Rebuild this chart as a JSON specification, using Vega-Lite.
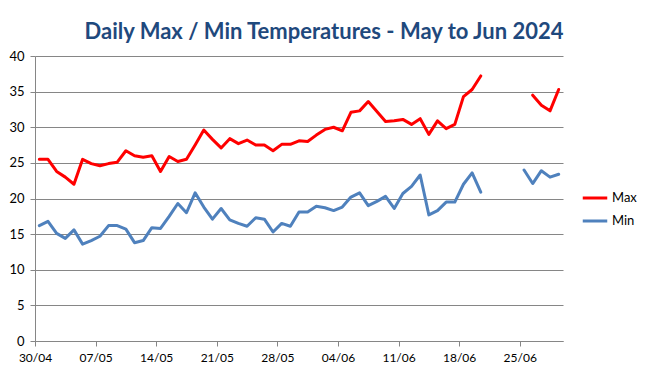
{
  "$schema": "https://vega.github.io/schema/vega-lite/v6.json",
  "width": 528,
  "height": 285,
  "autosize": {"type": "none"},
  "padding": {"left": 35, "top": 56, "right": 85, "bottom": 35},
  "background": "white",
  "title": {
    "text": "Daily Max / Min Temperatures - May to Jun 2024",
    "font": "Lato",
    "fontSize": 22,
    "fontWeight": "bold",
    "color": "#1F497D",
    "anchor": "middle",
    "frame": "group",
    "dx": 25,
    "dy": 27,
    "baseline": "alphabetic",
    "offset": 16
  },
  "config": {
    "view": {"stroke": null},
    "font": "Lato"
  },
  "data": {
    "values": [
      {"d": "2024-04-30T12:00", "Max": 25.5, "Min": 16.2},
      {"d": "2024-05-01T12:00", "Max": 25.5, "Min": 16.8},
      {"d": "2024-05-02T12:00", "Max": 23.8, "Min": 15.1},
      {"d": "2024-05-03T12:00", "Max": 23.0, "Min": 14.4},
      {"d": "2024-05-04T12:00", "Max": 22.0, "Min": 15.6},
      {"d": "2024-05-05T12:00", "Max": 25.5, "Min": 13.6},
      {"d": "2024-05-06T12:00", "Max": 24.9, "Min": 14.1},
      {"d": "2024-05-07T12:00", "Max": 24.6, "Min": 14.7},
      {"d": "2024-05-08T12:00", "Max": 24.9, "Min": 16.2},
      {"d": "2024-05-09T12:00", "Max": 25.1, "Min": 16.2},
      {"d": "2024-05-10T12:00", "Max": 26.7, "Min": 15.7},
      {"d": "2024-05-11T12:00", "Max": 26.0, "Min": 13.8},
      {"d": "2024-05-12T12:00", "Max": 25.8, "Min": 14.1},
      {"d": "2024-05-13T12:00", "Max": 26.0, "Min": 15.9},
      {"d": "2024-05-14T12:00", "Max": 23.8, "Min": 15.8},
      {"d": "2024-05-15T12:00", "Max": 25.9, "Min": 17.5},
      {"d": "2024-05-16T12:00", "Max": 25.2, "Min": 19.3},
      {"d": "2024-05-17T12:00", "Max": 25.5, "Min": 18.0},
      {"d": "2024-05-18T12:00", "Max": 27.5, "Min": 20.8},
      {"d": "2024-05-19T12:00", "Max": 29.6, "Min": 18.8},
      {"d": "2024-05-20T12:00", "Max": 28.3, "Min": 17.1},
      {"d": "2024-05-21T12:00", "Max": 27.1, "Min": 18.6},
      {"d": "2024-05-22T12:00", "Max": 28.4, "Min": 17.0},
      {"d": "2024-05-23T12:00", "Max": 27.7, "Min": 16.5},
      {"d": "2024-05-24T12:00", "Max": 28.2, "Min": 16.1},
      {"d": "2024-05-25T12:00", "Max": 27.5, "Min": 17.3},
      {"d": "2024-05-26T12:00", "Max": 27.5, "Min": 17.1},
      {"d": "2024-05-27T12:00", "Max": 26.7, "Min": 15.3},
      {"d": "2024-05-28T12:00", "Max": 27.6, "Min": 16.5},
      {"d": "2024-05-29T12:00", "Max": 27.6, "Min": 16.1},
      {"d": "2024-05-30T12:00", "Max": 28.1, "Min": 18.1},
      {"d": "2024-05-31T12:00", "Max": 28.0, "Min": 18.1},
      {"d": "2024-06-01T12:00", "Max": 28.9, "Min": 18.9},
      {"d": "2024-06-02T12:00", "Max": 29.7, "Min": 18.7},
      {"d": "2024-06-03T12:00", "Max": 30.0, "Min": 18.3},
      {"d": "2024-06-04T12:00", "Max": 29.5, "Min": 18.8},
      {"d": "2024-06-05T12:00", "Max": 32.1, "Min": 20.2},
      {"d": "2024-06-06T12:00", "Max": 32.3, "Min": 20.8},
      {"d": "2024-06-07T12:00", "Max": 33.6, "Min": 19.0},
      {"d": "2024-06-08T12:00", "Max": 32.2, "Min": 19.6},
      {"d": "2024-06-09T12:00", "Max": 30.8, "Min": 20.3},
      {"d": "2024-06-10T12:00", "Max": 30.9, "Min": 18.6},
      {"d": "2024-06-11T12:00", "Max": 31.1, "Min": 20.7},
      {"d": "2024-06-12T12:00", "Max": 30.4, "Min": 21.7},
      {"d": "2024-06-13T12:00", "Max": 31.2, "Min": 23.3},
      {"d": "2024-06-14T12:00", "Max": 29.0, "Min": 17.7},
      {"d": "2024-06-15T12:00", "Max": 30.9, "Min": 18.3},
      {"d": "2024-06-16T12:00", "Max": 29.8, "Min": 19.5},
      {"d": "2024-06-17T12:00", "Max": 30.4, "Min": 19.5},
      {"d": "2024-06-18T12:00", "Max": 34.3, "Min": 22.0},
      {"d": "2024-06-19T12:00", "Max": 35.3, "Min": 23.6},
      {"d": "2024-06-20T12:00", "Max": 37.2, "Min": 20.9},
      {"d": "2024-06-21T12:00", "Max": null, "Min": null},
      {"d": "2024-06-22T12:00", "Max": null, "Min": null},
      {"d": "2024-06-23T12:00", "Max": null, "Min": null},
      {"d": "2024-06-24T12:00", "Max": null, "Min": null},
      {"d": "2024-06-25T12:00", "Max": null, "Min": 24.0},
      {"d": "2024-06-26T12:00", "Max": 34.5, "Min": 22.1},
      {"d": "2024-06-27T12:00", "Max": 33.1, "Min": 23.9},
      {"d": "2024-06-28T12:00", "Max": 32.3, "Min": 23.0},
      {"d": "2024-06-29T12:00", "Max": 35.3, "Min": 23.4}
    ]
  },
  "transform": [{"fold": ["Max", "Min"], "as": ["series", "temp"]}],
  "mark": {"type": "line", "strokeWidth": 3, "strokeJoin": "round", "strokeCap": "round"},
  "encoding": {
    "x": {
      "field": "d",
      "type": "temporal",
      "scale": {
        "domain": [
          {"year": 2024, "month": 4, "date": 30},
          {"year": 2024, "month": 6, "date": 30}
        ]
      },
      "axis": {
        "title": null,
        "format": "%d/%m",
        "values": [
          {"year": 2024, "month": 4, "date": 30},
          {"year": 2024, "month": 5, "date": 7},
          {"year": 2024, "month": 5, "date": 14},
          {"year": 2024, "month": 5, "date": 21},
          {"year": 2024, "month": 5, "date": 28},
          {"year": 2024, "month": 6, "date": 4},
          {"year": 2024, "month": 6, "date": 11},
          {"year": 2024, "month": 6, "date": 18},
          {"year": 2024, "month": 6, "date": 25}
        ],
        "grid": false,
        "domainColor": "#868686",
        "tickColor": "#868686",
        "tickSize": 5,
        "labelFont": "Lato",
        "labelFontSize": 12,
        "labelColor": "#000000",
        "labelPadding": 6,
        "labelDx": 3,
        "labelAngle": 0,
        "labelFlush": false,
        "labelOverlap": false
      }
    },
    "y": {
      "field": "temp",
      "type": "quantitative",
      "scale": {"domain": [0, 40], "nice": false, "zero": true},
      "axis": {
        "title": null,
        "values": [0, 5, 10, 15, 20, 25, 30, 35, 40],
        "grid": true,
        "gridColor": "#868686",
        "gridWidth": 1,
        "domainColor": "#868686",
        "tickColor": "#868686",
        "tickSize": 5,
        "labelFont": "Lato",
        "labelFontSize": 13,
        "labelColor": "#000000",
        "labelPadding": 6
      }
    },
    "color": {
      "field": "series",
      "type": "nominal",
      "scale": {"domain": ["Max", "Min"], "range": ["#FF0000", "#4F81BD"]},
      "legend": {
        "title": null,
        "orient": "none",
        "legendX": 546,
        "legendY": 128,
        "padding": 0,
        "symbolType": "stroke",
        "symbolSize": 600,
        "symbolStrokeWidth": 3,
        "symbolOffset": 0,
        "labelOffset": 3,
        "labelFont": "Lato",
        "labelFontSize": 13,
        "labelColor": "#000000",
        "rowPadding": 2
      }
    }
  }
}
